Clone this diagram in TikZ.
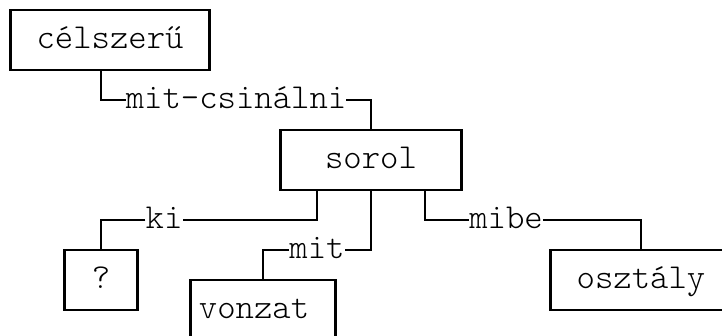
\documentclass[tikz,border=0pt]{standalone}
\usepackage{fontspec}
\newfontfamily{\treemono}{lmmonolt10-regular.otf}
\newcommand{\treefont}{\treemono\fontsize{35pt}{30pt}\selectfont}

\begin{document}
\begin{tikzpicture}[x=1pt, y=1pt,
        wordbox/.style={rectangle, draw, line width=1.3pt, inner sep=0pt, minimum height=60pt,
            text height=20pt, text depth=4pt, font=\treefont},
        rel/.style={fill=white, inner sep=0pt, text height=16pt, text depth=0pt, font=\treefont},
        hline/.style={line width=1.3pt},
        vline/.style={line width=2.4pt}]
        \useasboundingbox (0, 0) rectangle (722, -335);
        \clip (0, 0) rectangle (722, -335);
        % \draw (0, 0) grid (722, -335);
        \node [wordbox, minimum width=198pt, name=celszeru] at (110, -40) {célszerű};
        \node [wordbox, minimum width=180pt, name=sorol] at (371, -160) {sorol};
        \node [wordbox, minimum width=72pt, name=qmark] at (101, -280) {?};
        \node [wordbox, minimum width=144pt, name=vonzat] at (263, -310) {vonzat\kern18pt};
        \node [wordbox, minimum width=180pt, name=osztaly] at (641, -280) {osztály};
        \foreach \b in {celszeru, sorol, qmark, vonzat, osztaly}
            \draw [vline] (\b.north west) -- (\b.south west) (\b.north east) -- (\b.south east);
        \node [rel, name=r_mitcs] at (236, -100) {mit-csinálni};
        \node [rel, name=r_ki] at (164, -220) {ki};
        \node [rel, name=r_mit] at (317, -250) {mit};
        \node [rel, name=r_mibe] at (506, -220) {mibe};
        \coordinate (celszeru_out) at ([xshift=-9pt]celszeru.south);
        \coordinate (sorol_ki) at ([xshift=-54pt]sorol.south);
        \coordinate (sorol_mibe) at ([xshift=54pt]sorol.south);
        \draw [hline] (celszeru_out) |- (r_mitcs.west);
        \draw [hline] (r_mitcs.east) -| (sorol.north);
        \draw [hline] (sorol_ki) |- (r_ki.east);
        \draw [hline] (r_ki.west) -| (qmark.north);
        \draw [hline] (sorol.south) |- (r_mit.east);
        \draw [hline] (r_mit.west) -| (vonzat.north);
        \draw [hline] (sorol_mibe) |- (r_mibe.west);
        \draw [hline] (r_mibe.east) -| (osztaly.north);
        \foreach \a/\r in {celszeru_out/r_mitcs, sorol.north/r_mitcs, sorol_ki/r_ki, qmark.north/r_ki,
                sorol.south/r_mit, vonzat.north/r_mit, sorol_mibe/r_mibe, osztaly.north/r_mibe}
            \draw [vline] (\a) -- (\a |- \r);
    \end{tikzpicture}
\end{document}
